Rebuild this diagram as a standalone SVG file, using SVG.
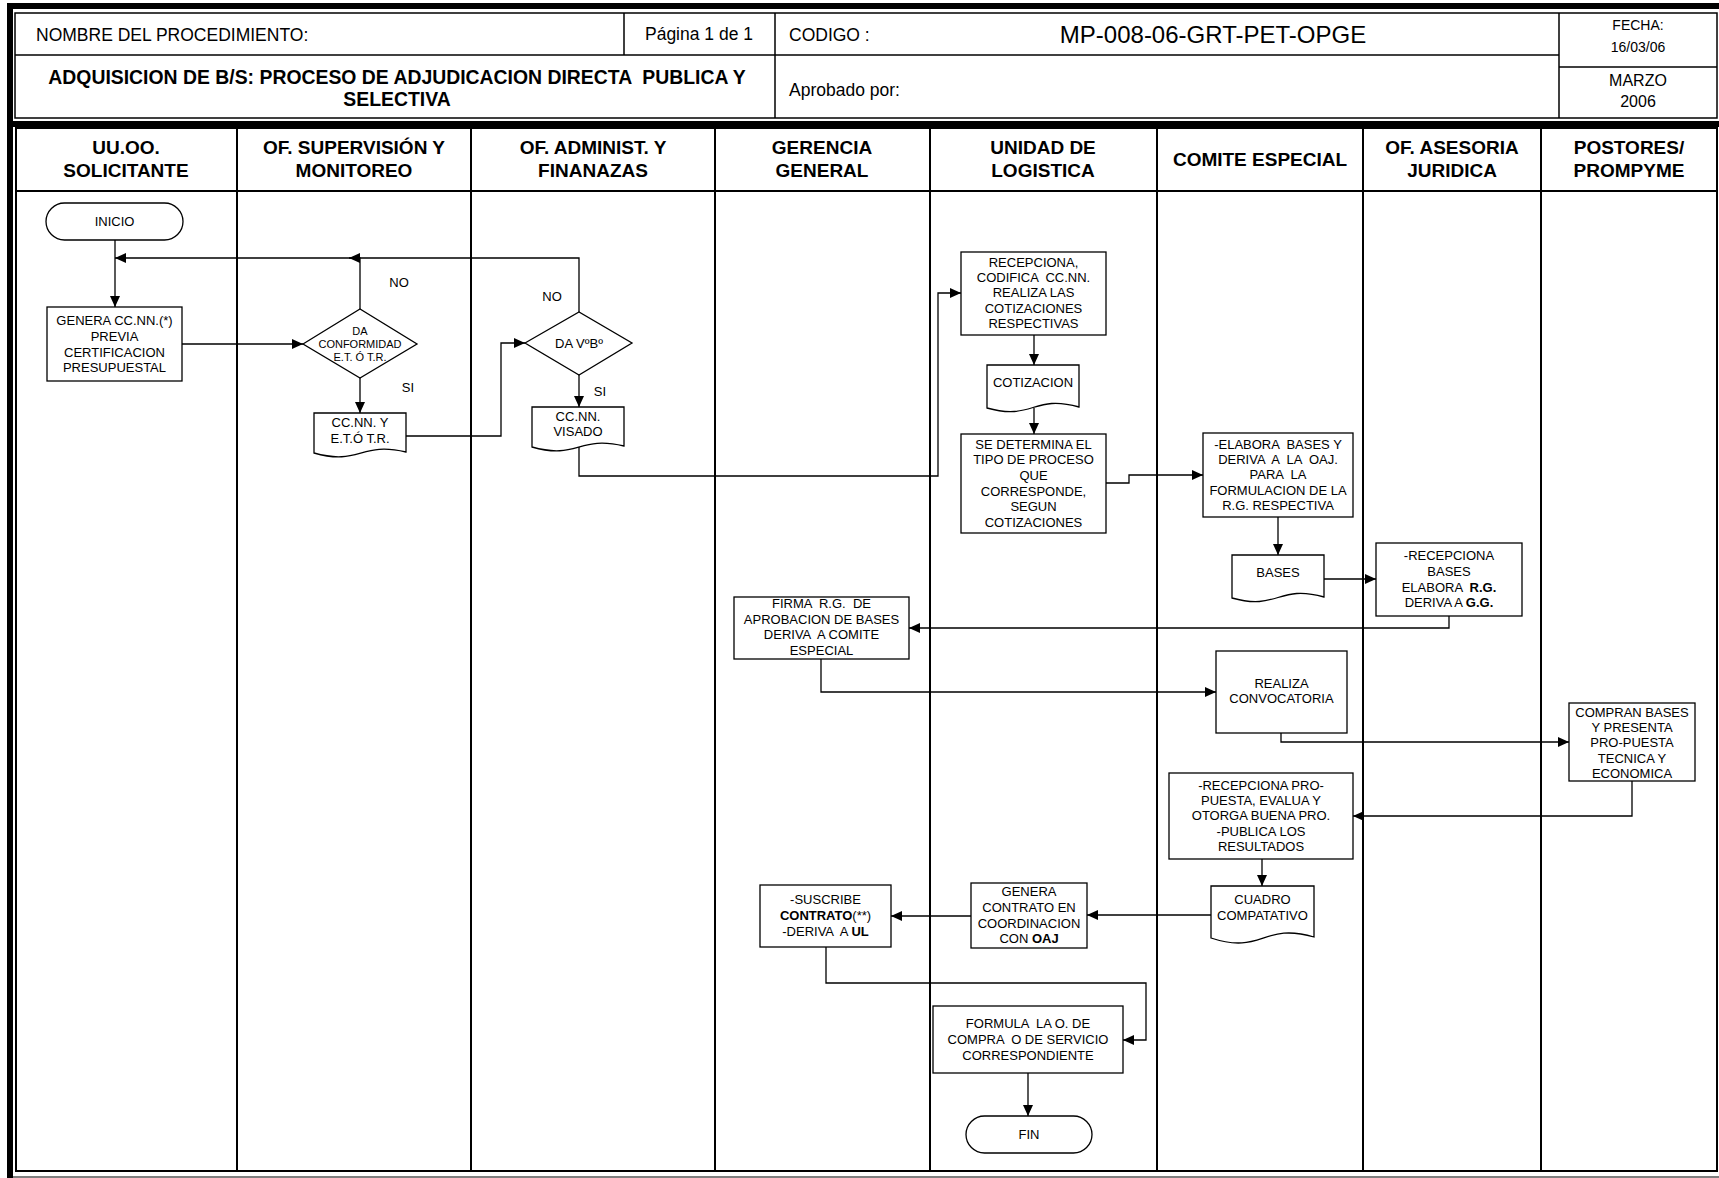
<svg xmlns="http://www.w3.org/2000/svg" width="1719" height="1178" viewBox="0 0 1719 1178">
<defs>
<style>
text { font-family: "Liberation Sans", Arial, sans-serif; fill: #000; white-space: pre; }
.n { font-size: 13px; text-anchor: middle; }
.s { font-size: 11px; text-anchor: middle; }
.h { font-size: 19px; font-weight: bold; text-anchor: middle; }
.hd { font-size: 17.5px; }
.box { fill: #fff; stroke: #000; stroke-width: 1.3; }
.cn { fill: none; stroke: #000; stroke-width: 1.3; marker-end: url(#ah); }
.ln { stroke: #000; stroke-width: 2; fill: none; }
.tl { stroke: #000; stroke-width: 1.5; fill: none; }
.b { font-weight: bold; }
</style>
<marker id="ah" markerUnits="userSpaceOnUse" markerWidth="12" markerHeight="10" refX="11" refY="5" orient="auto">
<path d="M0,0 L11,5 L0,10 z" fill="#000"/>
</marker>
</defs>
<rect width="1719" height="1178" fill="#fff"/>

<g id="frame">
<rect x="7" y="3" width="1712" height="6" fill="#000"/>
<rect x="7" y="3" width="6" height="1175" fill="#000"/>
<rect x="13" y="121" width="1706" height="6" fill="#000"/>
<line x1="13" y1="1177" x2="1719" y2="1177" stroke="#555" stroke-width="1.5"/>
<rect x="15" y="13" width="1702" height="105" class="tl"/>
<line x1="15" y1="55" x2="1559" y2="55" class="tl"/>
<line x1="1559" y1="67" x2="1717" y2="67" class="tl"/>
<line x1="624" y1="13" x2="624" y2="55" class="tl"/>
<line x1="775" y1="13" x2="775" y2="118" class="tl"/>
<line x1="1559" y1="13" x2="1559" y2="118" class="tl"/>
<text x="36" y="41" class="hd">NOMBRE DEL PROCEDIMIENTO:</text>
<text x="699" y="40" class="hd" font-size="18" text-anchor="middle">Página 1 de 1</text>
<text x="789" y="41" class="hd">CODIGO :</text>
<text x="1213" y="43" font-size="24" text-anchor="middle">MP-008-06-GRT-PET-OPGE</text>
<text x="1638" y="30" font-size="14" text-anchor="middle">FECHA:</text>
<text x="1638" y="52" font-size="14" text-anchor="middle">16/03/06</text>
<text x="397" y="84" font-size="19.4" font-weight="bold" text-anchor="middle">ADQUISICION DE B/S: PROCESO DE ADJUDICACION DIRECTA  PUBLICA Y</text>
<text x="397" y="106" font-size="19.4" font-weight="bold" text-anchor="middle">SELECTIVA</text>
<text x="789" y="96" class="hd">Aprobado por:</text>
<text x="1638" y="86" font-size="16" text-anchor="middle">MARZO</text>
<text x="1638" y="107" font-size="16" text-anchor="middle">2006</text>
</g>

<g id="lanes">
<rect x="16" y="128" width="1701" height="1043" class="ln"/>
<line x1="16" y1="191" x2="1717" y2="191" class="ln"/>
<line x1="237" y1="128" x2="237" y2="1171" class="ln"/>
<line x1="471" y1="128" x2="471" y2="1171" class="ln"/>
<line x1="715" y1="128" x2="715" y2="1171" class="ln"/>
<line x1="930" y1="128" x2="930" y2="1171" class="ln"/>
<line x1="1157" y1="128" x2="1157" y2="1171" class="ln"/>
<line x1="1363" y1="128" x2="1363" y2="1171" class="ln"/>
<line x1="1541" y1="128" x2="1541" y2="1171" class="ln"/>
<text x="126" y="154" class="h">UU.OO.</text>
<text x="126" y="177" class="h">SOLICITANTE</text>
<text x="354" y="154" class="h">OF. SUPERVISIÓN Y</text>
<text x="354" y="177" class="h">MONITOREO</text>
<text x="593" y="154" class="h">OF. ADMINIST. Y</text>
<text x="593" y="177" class="h">FINANAZAS</text>
<text x="822" y="154" class="h">GERENCIA</text>
<text x="822" y="177" class="h">GENERAL</text>
<text x="1043" y="154" class="h">UNIDAD DE</text>
<text x="1043" y="177" class="h">LOGISTICA</text>
<text x="1260" y="166" class="h">COMITE ESPECIAL</text>
<text x="1452" y="154" class="h">OF. ASESORIA</text>
<text x="1452" y="177" class="h">JURIDICA</text>
<text x="1629" y="154" class="h">POSTORES/</text>
<text x="1629" y="177" class="h">PROMPYME</text>
</g>

<g id="connectors">
<path class="cn" d="M115,240 V307"/>
<path class="cn" d="M182,344 H303"/>
<path class="cn" d="M360,378 V413"/>
<path class="cn" d="M360,309 V258 H115"/>
<path class="cn" d="M579,312 V258 H349"/>
<path class="cn" d="M406,436 H501 V343 H525"/>
<path class="cn" d="M579,375 V407"/>
<path class="cn" d="M579,447 V476 H938 V293 H961"/>
<path class="cn" d="M1034,335 V365"/>
<path class="cn" d="M1034,408 V434"/>
<path class="cn" d="M1106,483 H1129 V475 H1203"/>
<path class="cn" d="M1278,517 V555"/>
<path class="cn" d="M1324,579 H1376"/>
<path class="cn" d="M1449,616 V628 H909"/>
<path class="cn" d="M821,659 V692 H1216"/>
<path class="cn" d="M1281,733 V742 H1569"/>
<path class="cn" d="M1632,781 V816 H1353"/>
<path class="cn" d="M1262,859 V886"/>
<path class="cn" d="M1211,915 H1087"/>
<path class="cn" d="M971,916 H891"/>
<path class="cn" d="M826,947 V983 H1146 V1040 H1123"/>
<path class="cn" d="M1028,1073 V1116"/>
<text x="399" y="287" class="n">NO</text>
<text x="408" y="392" class="n">SI</text>
<text x="552" y="301" class="n">NO</text>
<text x="600" y="396" class="n">SI</text>
</g>

<g id="inicio">
<rect x="46" y="203" width="137" height="37" rx="18.5" class="box"/>
<text x="114.5" y="226" class="n" font-size="14">INICIO</text>
</g>
<g id="genera">
<rect x="47" y="307" width="135" height="74" class="box"/>
<text x="114.5" y="325" class="n">GENERA CC.NN.(*)</text>
<text x="114.5" y="341" class="n">PREVIA</text>
<text x="114.5" y="357" class="n">CERTIFICACION</text>
<text x="114.5" y="372" class="n">PRESUPUESTAL</text>
</g>
<g id="conformidad">
<polygon points="303,344 360,309 417,344 360,378" class="box"/>
<text x="360" y="335" class="s">DA</text>
<text x="360" y="348" class="s">CONFORMIDAD</text>
<text x="360" y="361" class="s">E.T. Ó T.R.</text>
</g>
<g id="doc-ccnn-et">
<path d="M314,413 H406 V452 C360,441 360,466 314,453 Z" class="box"/>
<text x="360" y="427" class="n">CC.NN. Y</text>
<text x="360" y="443" class="n">E.T.Ó T.R.</text>
</g>
<g id="vobo">
<polygon points="525,343 579,312 632,343 579,375" class="box"/>
<text x="579" y="348" class="n">DA VºBº</text>
</g>
<g id="doc-visado">
<path d="M532,407 H624 V446 C578,435 578,460 532,447 Z" class="box"/>
<text x="578" y="421" class="n">CC.NN.</text>
<text x="578" y="436" class="n">VISADO</text>
</g>
<g id="recepciona">
<rect x="961" y="252" width="145" height="83" class="box"/>
<text x="1033.5" y="267" class="n">RECEPCIONA,</text>
<text x="1033.5" y="282" class="n">CODIFICA  CC.NN.</text>
<text x="1033.5" y="297" class="n">REALIZA LAS</text>
<text x="1033.5" y="313" class="n">COTIZACIONES</text>
<text x="1033.5" y="328" class="n">RESPECTIVAS</text>
</g>
<g id="doc-cotizacion">
<path d="M987,365 H1079 V407 C1033,394 1033,421 987,408 Z" class="box"/>
<text x="1033" y="387" class="n">COTIZACION</text>
</g>
<g id="determina">
<rect x="961" y="434" width="145" height="99" class="box"/>
<text x="1033.5" y="449" class="n">SE DETERMINA EL</text>
<text x="1033.5" y="464" class="n">TIPO DE PROCESO</text>
<text x="1033.5" y="480" class="n">QUE</text>
<text x="1033.5" y="496" class="n">CORRESPONDE,</text>
<text x="1033.5" y="511" class="n">SEGUN</text>
<text x="1033.5" y="527" class="n">COTIZACIONES</text>
</g>
<g id="elabora">
<rect x="1203" y="433" width="150" height="84" class="box"/>
<text x="1278" y="449" class="n">-ELABORA  BASES Y</text>
<text x="1278" y="464" class="n">DERIVA  A  LA  OAJ.</text>
<text x="1278" y="479" class="n">PARA  LA</text>
<text x="1278" y="495" class="n">FORMULACION DE LA</text>
<text x="1278" y="510" class="n">R.G. RESPECTIVA</text>
</g>
<g id="doc-bases">
<path d="M1232,555 H1324 V597 C1278,584 1278,611 1232,598 Z" class="box"/>
<text x="1278" y="577" class="n">BASES</text>
</g>
<g id="recepciona-bases">
<rect x="1376" y="543" width="146" height="73" class="box"/>
<text x="1449" y="560" class="n">-RECEPCIONA</text>
<text x="1449" y="576" class="n">BASES</text>
<text x="1449" y="592" class="n">ELABORA  <tspan class="b">R.G.</tspan></text>
<text x="1449" y="607" class="n">DERIVA A <tspan class="b">G.G.</tspan></text>
</g>
<g id="firma">
<rect x="734" y="597" width="175" height="62" class="box"/>
<text x="821.5" y="608" class="n">FIRMA  R.G.  DE</text>
<text x="821.5" y="624" class="n">APROBACION DE BASES</text>
<text x="821.5" y="639" class="n">DERIVA  A COMITE</text>
<text x="821.5" y="655" class="n">ESPECIAL</text>
</g>
<g id="convocatoria">
<rect x="1216" y="651" width="131" height="82" class="box"/>
<text x="1281.5" y="688" class="n">REALIZA</text>
<text x="1281.5" y="703" class="n">CONVOCATORIA</text>
</g>
<g id="compran">
<rect x="1569" y="703" width="126" height="78" class="box"/>
<text x="1632" y="717" class="n">COMPRAN BASES</text>
<text x="1632" y="732" class="n">Y PRESENTA</text>
<text x="1632" y="747" class="n">PRO-PUESTA</text>
<text x="1632" y="763" class="n">TECNICA Y</text>
<text x="1632" y="778" class="n">ECONOMICA</text>
</g>
<g id="recepciona-propuesta">
<rect x="1169" y="773" width="184" height="86" class="box"/>
<text x="1261" y="790" class="n">-RECEPCIONA PRO-</text>
<text x="1261" y="805" class="n">PUESTA, EVALUA Y</text>
<text x="1261" y="820" class="n">OTORGA BUENA PRO.</text>
<text x="1261" y="836" class="n">-PUBLICA LOS</text>
<text x="1261" y="851" class="n">RESULTADOS</text>
</g>
<g id="doc-cuadro">
<path d="M1211,886 H1314 V937 C1262.5,922 1262.5,955 1211,938 Z" class="box"/>
<text x="1262.5" y="904" class="n">CUADRO</text>
<text x="1262.5" y="920" class="n">COMPATATIVO</text>
</g>
<g id="genera-contrato">
<rect x="971" y="883" width="116" height="65" class="box"/>
<text x="1029" y="896" class="n">GENERA</text>
<text x="1029" y="912" class="n">CONTRATO EN</text>
<text x="1029" y="928" class="n">COORDINACION</text>
<text x="1029" y="943" class="n">CON <tspan class="b">OAJ</tspan></text>
</g>
<g id="suscribe">
<rect x="760" y="885" width="131" height="62" class="box"/>
<text x="825.5" y="904" class="n">-SUSCRIBE</text>
<text x="825.5" y="920" class="n"><tspan class="b">CONTRATO</tspan>(**)</text>
<text x="825.5" y="936" class="n">-DERIVA  A <tspan class="b">UL</tspan></text>
</g>
<g id="formula">
<rect x="933" y="1006" width="190" height="67" class="box"/>
<text x="1028" y="1028" class="n">FORMULA  LA O. DE</text>
<text x="1028" y="1044" class="n">COMPRA  O DE SERVICIO</text>
<text x="1028" y="1060" class="n">CORRESPONDIENTE</text>
</g>
<g id="fin">
<rect x="966" y="1116" width="126" height="37" rx="18.5" class="box"/>
<text x="1029" y="1139" class="n">FIN</text>
</g>
</svg>
